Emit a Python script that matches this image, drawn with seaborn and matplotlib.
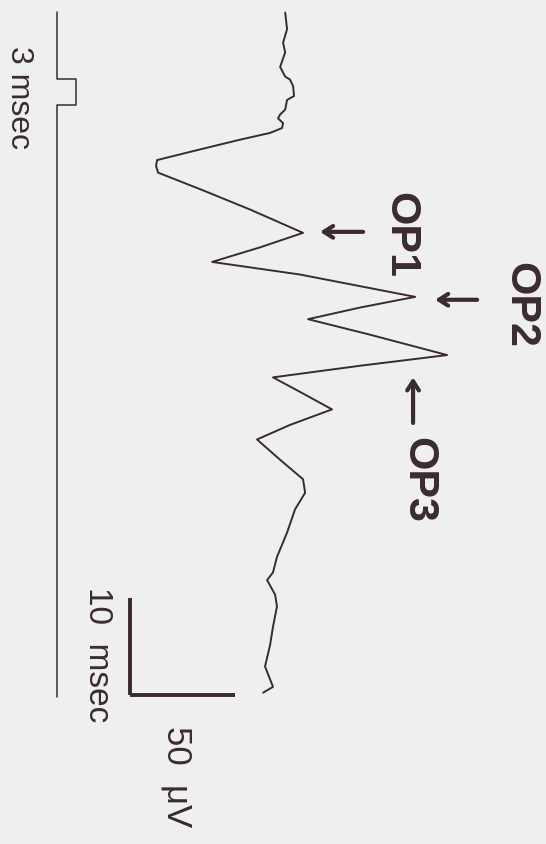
"""Oscillatory potentials trace, drawn rotated as in the scanned figure"""

import numpy as np
import pandas as pd
import matplotlib
matplotlib.use("Agg")
import matplotlib.pyplot as plt
import seaborn as sb

# ERG oscillatory potential trace: time (msec from flash) and amplitude (uV)
trace_t = [-6.8, -5.1, -3.7, -2.7, -1.2, -0.2, 0.1, 0.8, 1.8, 2.2, 3.2,
           3.7, 4.1, 4.6, 5.1, 5.6, 6.3, 7.3, 8.4, 9.0, 9.7, 11.4, 13.5,
           15.9, 17.4, 18.9, 20.2, 22.5, 23.6, 24.8, 26.4, 28.5, 29.6,
           30.8, 32.3, 34.1, 35.7, 37.2, 39.3, 41.3, 42.7, 44.4, 46.8,
           49.3, 50.9, 51.7, 53.2, 54.4, 56.5, 58.4, 60.6, 62.7, 63.3]
trace_uv = [1.0, 1.9, 0.0, 1.0, -1.4, 1.0, 3.3, 4.8, 5.2, 1.9, 1.0,
            -1.4, -2.4, 0.0, -0.5, -6.2, -20.5, -39.5, -60.0, -60.5, -59.5,
            -39.5, -15.7, 9.5, -11.0, -33.8, 8.1, 62.9, 36.7, 11.9, 41.4,
            78.1, 36.7, -4.8, 8.1, 23.3, 3.3, -12.4, -1.4, 9.5, 10.5, 5.7,
            1.9, -2.9, -4.8, -7.6, -3.8, -2.9, -4.8, -6.2, -8.6, -4.8, -9.5]

# stimulus marker: 0 = off, 1 = on (3 msec pulse)
stim_t = [-6.9, 0.0, 0.0, 2.7, 2.7, 63.7]
stim_on = [0, 0, 1, 1, 0, 0]

# calibration bar
bar_msec = 10
bar_uv = 50

ink = "#3a2a31"
paper = "#efeff1"

sb.set_theme(style="white")
plt.rcParams["font.family"] = ["Liberation Sans", "DejaVu Sans"]

fig = plt.figure(figsize=(5.46, 8.44), dpi=100, facecolor=paper)
ax = fig.add_axes([0, 0, 1, 1])
ax.set_facecolor(paper)

df = pd.DataFrame({"t": trace_t, "uv": trace_uv})
sb.lineplot(data=df, x="uv", y="t", orient="y", sort=False, estimator=None,
            color=ink, linewidth=1.4, ax=ax)

# stimulus trace off to the left, step drawn 9 units wide
stim_x = -107.6 + 9.0 * np.array(stim_on)
sb.lineplot(x=stim_x, y=stim_t, orient="y", sort=False, estimator=None,
            color=ink, linewidth=1.1, ax=ax)

# calibration bars
bx, bt = -72.9, 63.5
ax.plot([bx, bx], [bt - bar_msec, bt], color=ink, lw=2.8, solid_capstyle="butt")
ax.plot([bx, bx + bar_uv], [bt, bt], color=ink, lw=2.8, solid_capstyle="butt")

lbl = dict(color=ink, rotation=-90, ha="center", va="center")
ax.text(-125.7, 1.9, "3 msec", fontsize=23, **lbl)
ax.text(-88.6, 59.4, f"{bar_msec}  msec", fontsize=24, **lbl)
ax.text(-50.5, 71.9, f"{bar_uv}  μV", fontsize=25, **lbl)

# peak labels with arrows
op = dict(color=ink, ha="center", va="center", fontsize=31, fontweight="bold",
          rotation=-90)
ax.text(55.7, 16.1, "OP1", **op)
ax.text(112.9, 23.3, "OP2", **op)
ax.text(64.3, 41.4, "OP3", **op)

arr = dict(arrowstyle="->,head_length=0.55,head_width=0.35", lw=3.0,
           color=ink, shrinkA=0, shrinkB=0)
ax.annotate("", xy=(17.6, 15.8), xytext=(38.1, 15.8), arrowprops=arr)
ax.annotate("", xy=(72.4, 22.8), xytext=(92.4, 22.8), arrowprops=arr)
ax.annotate("", xy=(61.9, 30.8), xytext=(61.9, 35.5), arrowprops=arr)

ax.set_xlim(-134.8, 125.2)
ax.set_ylim(78.9, -8.1)
ax.set_axis_off()

plt.savefig("out.png", dpi=100, facecolor=paper)
plt.close()
